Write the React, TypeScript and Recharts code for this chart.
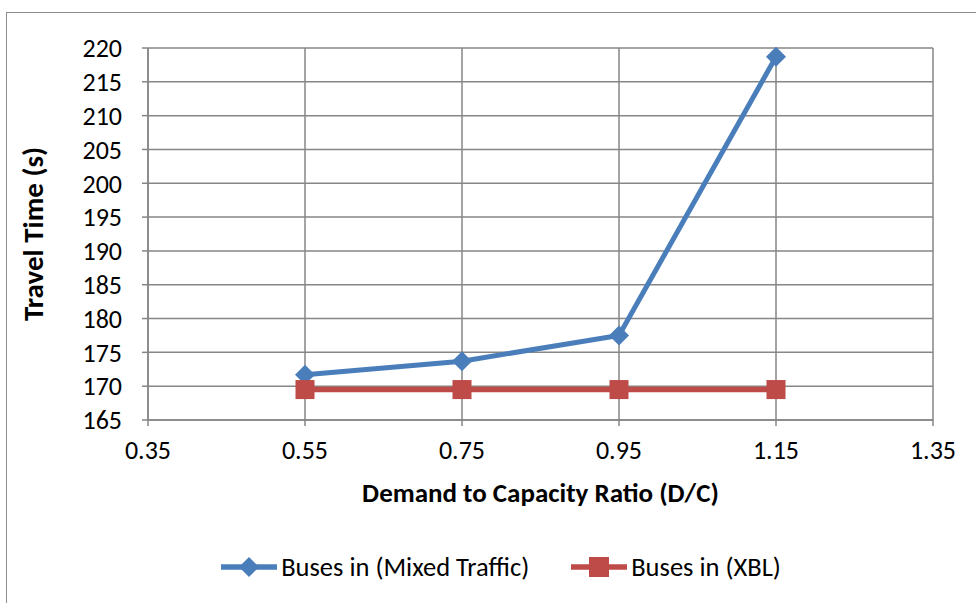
import { LineChart, Line, XAxis, YAxis, CartesianGrid, Legend } from "recharts";

const dcRatio = [0.55, 0.75, 0.95, 1.15];
const mixedTraffic = [171.7, 173.7, 177.5, 218.7];
const xbl = [169.5, 169.5, 169.5, 169.5];
const xTicks = [0.35, 0.55, 0.75, 0.95, 1.15, 1.35];
const yTicks = [165, 170, 175, 180, 185, 190, 195, 200, 205, 210, 215, 220];

const BLUE = "#4a7ebb";
const RED = "#be4b48";
const GRID = "#868686";
const FONT = "Carlito, 'Liberation Sans Narrow', 'DejaVu Sans Condensed', sans-serif";

const data = dcRatio.map((dc, i) => ({ dc, mixed: mixedTraffic[i], xbl: xbl[i] }));

const Diamond = (props: any) => {
  const { cx, cy } = props;
  if (cx == null || cy == null) return null;
  const r = 10;
  return <polygon points={`${cx},${cy - r} ${cx + r},${cy} ${cx},${cy + r} ${cx - r},${cy}`} fill={BLUE} />;
};

const Square = (props: any) => {
  const { cx, cy } = props;
  if (cx == null || cy == null) return null;
  const r = 9.5;
  return <rect x={cx - r} y={cy - r} width={r * 2} height={r * 2} fill={RED} />;
};

function LegendContent() {
  const items = [
    { label: "Buses in (Mixed Traffic)", color: BLUE, shape: "diamond" },
    { label: "Buses in (XBL)", color: RED, shape: "square" },
  ];
  return (
    <div
      style={{
        display: "flex",
        justifyContent: "center",
        alignItems: "center",
        gap: 42,
        height: 32,
        paddingLeft: 69,
        fontFamily: FONT,
        fontSize: 26.5,
        color: "#000",
      }}
    >
      {items.map((it) => (
        <div key={it.label} style={{ display: "flex", alignItems: "center" }}>
          <svg width={56} height={24}>
            <line x1={0} y1={12} x2={56} y2={12} stroke={it.color} strokeWidth={5.5} />
            {it.shape === "diamond" ? (
              <polygon points="28,2 38,12 28,22 18,12" fill={it.color} />
            ) : (
              <rect x={18} y={2} width={20} height={20} fill={it.color} />
            )}
          </svg>
          <span style={{ marginLeft: 4 }}>{it.label}</span>
        </div>
      ))}
    </div>
  );
}

export default function App() {
  return (
    <div style={{ position: "absolute", left: 0, top: 0, width: 976, height: 603, background: "#fff", overflow: "hidden" }}>
      <div style={{ position: "absolute", left: 6, top: 12, width: 990, height: 620, border: "1.5px solid #8c8c8c" }} />
      <LineChart
        width={976}
        height={603}
        data={data}
        margin={{ top: 48, right: 43, bottom: 20, left: 0 }}
        style={{ fontFamily: FONT }}
      >
        <CartesianGrid stroke={GRID} strokeWidth={1.5} />
        <XAxis
          dataKey="dc"
          type="number"
          domain={[0.35, 1.35]}
          ticks={xTicks}
          interval={0}
          tickFormatter={(v: number) => v.toFixed(2)}
          stroke={GRID}
          strokeWidth={1.5}
          tickSize={6}
          tickMargin={15}
          height={131}
          tick={{ fill: "#000", fontSize: 26 }}
          label={{ value: "Demand to Capacity Ratio (D/C)", position: "insideTop", offset: 63, fill: "#000", fontSize: 27, fontWeight: "bold" }}
        />
        <YAxis
          type="number"
          domain={[165, 220]}
          ticks={yTicks}
          interval={0}
          stroke={GRID}
          strokeWidth={1.5}
          tickSize={6}
          tickMargin={20}
          width={148}
          tick={{ fill: "#000", fontSize: 26 }}
          label={{ value: "Travel Time (s)", angle: -90, position: "insideLeft", offset: 33, fill: "#000", fontSize: 29, fontWeight: "bold", style: { textAnchor: "middle" } }}
        />
        <Legend verticalAlign="bottom" content={() => <LegendContent />} />
        <Line
          dataKey="mixed"
          name="Buses in (Mixed Traffic)"
          stroke={BLUE}
          strokeWidth={5}
          dot={<Diamond />}
          isAnimationActive={false}
        />
        <Line
          dataKey="xbl"
          name="Buses in (XBL)"
          stroke={RED}
          strokeWidth={5.5}
          dot={<Square />}
          isAnimationActive={false}
        />
      </LineChart>
    </div>
  );
}
